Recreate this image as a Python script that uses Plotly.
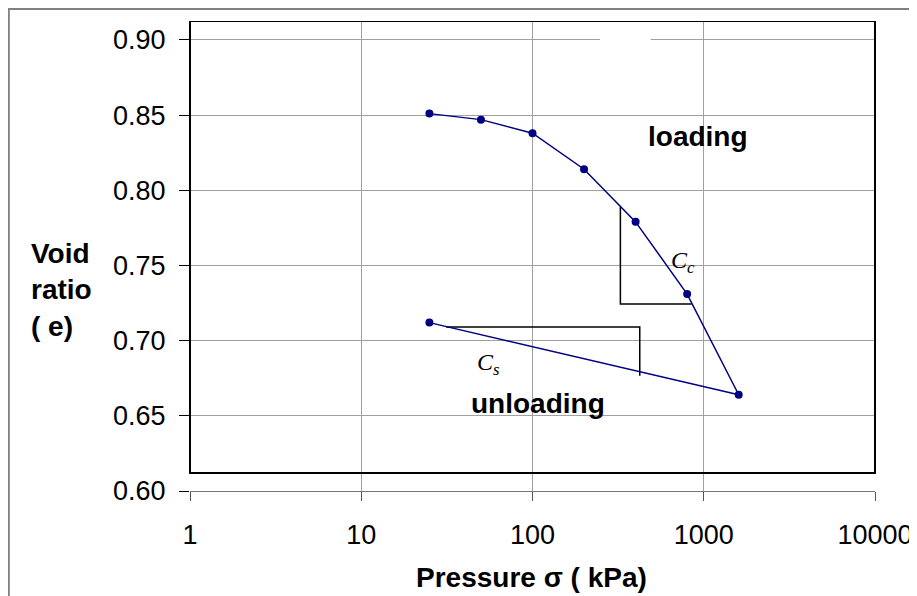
import plotly.graph_objects as go

# Consolidation test data (e - log sigma)
loading_pressure = [25, 50, 100, 200, 400, 800, 1600]
loading_void = [0.851, 0.847, 0.838, 0.814, 0.779, 0.731, 0.664]
unloading_pressure = [1600, 25]
unloading_void = [0.664, 0.712]

# Slope triangles
cc_tri_x = [326, 326, 851]
cc_tri_y = [0.789, 0.7244, 0.7244]
cs_tri_x = [31.3, 423, 423]
cs_tri_y = [0.709, 0.709, 0.6766]

x_ticks = [1, 10, 100, 1000, 10000]
x_tick_labels = ["1", "10", "100", "1000", "10000"]
y_ticks = [0.60, 0.65, 0.70, 0.75, 0.80, 0.85, 0.90]
y_tick_labels = ["0.60", "0.65", "0.70", "0.75", "0.80", "0.85", "0.90"]

FONT = "Arial, Liberation Sans, sans-serif"
SERIF = "Liberation Serif, Times New Roman, serif"
NAVY = "#000080"
GRID = "#a0a0a0"

fig = go.Figure()

fig.add_trace(go.Scatter(
    x=cc_tri_x, y=cc_tri_y, mode="lines",
    line=dict(color="black", width=1.5), hoverinfo="skip", showlegend=False))
fig.add_trace(go.Scatter(
    x=cs_tri_x, y=cs_tri_y, mode="lines",
    line=dict(color="black", width=1.5), hoverinfo="skip", showlegend=False))

fig.add_trace(go.Scatter(
    x=loading_pressure + unloading_pressure[1:],
    y=loading_void + unloading_void[1:],
    mode="lines+markers",
    line=dict(color=NAVY, width=1.5),
    marker=dict(color=NAVY, size=8),
    showlegend=False))

fig.update_xaxes(
    type="log", range=[0, 4],
    tickvals=x_ticks, ticktext=x_tick_labels,
    showgrid=True, gridcolor=GRID, gridwidth=1.3,
    showline=True, linecolor="#777777", linewidth=1.3,
    ticks="outside", ticklen=9, tickcolor="#555555", tickwidth=1,
    ticklabelstandoff=10,
    tickfont=dict(family=FONT, size=27, color="black"),
    zeroline=False, mirror=False)
fig.update_yaxes(
    range=[0.60, 0.9126],
    tickvals=y_ticks, ticktext=y_tick_labels,
    showgrid=True, gridcolor=GRID, gridwidth=1.3,
    showline=False,
    ticks="outside", ticklen=10, tickcolor="black", tickwidth=1,
    ticklabelstandoff=8,
    tickfont=dict(family=FONT, size=27, color="black"),
    zeroline=False)

shapes = [
    # black plot-area frame
    dict(type="rect", xref="x domain", yref="y", x0=0, x1=1, y0=0.612, y1=0.9126,
         line=dict(color="black", width=2), fillcolor="rgba(0,0,0,0)", layer="above"),
    # gap in the top gridline
    dict(type="rect", xref="x", yref="y", x0=248, x1=490, y0=0.8975, y1=0.9025,
         line=dict(width=0), fillcolor="white", layer="above"),
    # outer chart frame
    dict(type="rect", xref="paper", yref="paper", x0=(8 - 190) / 688, x1=1.5,
         y0=-0.5, y1=(491 - 9) / 470,
         line=dict(color="#808080", width=2), fillcolor="rgba(0,0,0,0)", layer="below"),
]

annotations = [
    dict(text="<b>Pressure σ ( kPa)</b>", xref="paper", yref="paper",
         x=(533 - 190) / 688, y=(491 - 577) / 470, xanchor="center", yanchor="middle",
         showarrow=False, font=dict(family=FONT, size=28, color="black")),
    dict(text="<b>Void<br>ratio<br>( e)</b>", xref="paper", yref="paper",
         x=(28 - 190) / 688, y=(491 - 290) / 470, xanchor="left", yanchor="middle",
         align="left", showarrow=False, font=dict(family=FONT, size=28, color="black")),
    dict(text="<b>loading</b>", xref="x", yref="y", x=2.965, y=0.8355,
         showarrow=False, font=dict(family=FONT, size=28, color="black")),
    dict(text="<b>unloading</b>", xref="x", yref="y", x=2.035, y=0.658,
         showarrow=False, font=dict(family=FONT, size=28, color="black")),
    dict(text="<i>C<sub>c</sub></i>", xref="x", yref="y", x=2.878, y=0.7523,
         showarrow=False, font=dict(family=SERIF, size=24, color="black")),
    dict(text="<i>C<sub>s</sub></i>", xref="x", yref="y", x=1.744, y=0.6844,
         showarrow=False, font=dict(family=SERIF, size=24, color="black")),
]

fig.update_layout(
    width=917, height=596,
    margin=dict(l=182, r=47, t=13, b=113),
    plot_bgcolor="white", paper_bgcolor="white",
    shapes=shapes, annotations=annotations,
    font=dict(family=FONT, color="black"),
)

fig.write_html("out.html")
